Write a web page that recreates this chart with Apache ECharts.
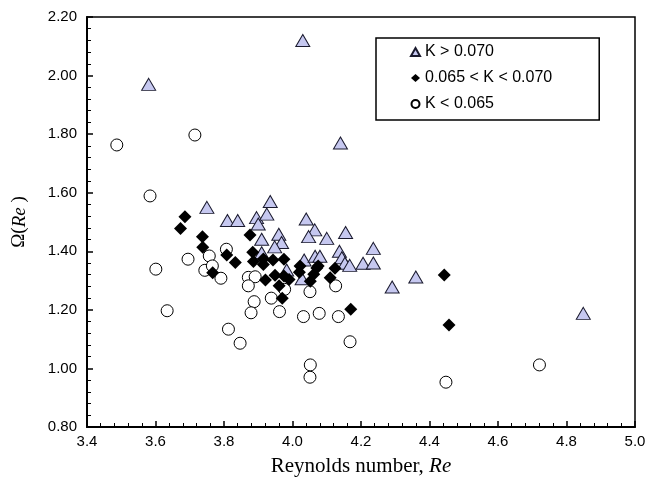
<!DOCTYPE html>
<html>
<head>
<meta charset="utf-8">
<script src="https://cdn.jsdelivr.net/npm/echarts@6/dist/echarts.min.js"></script>
<style>
  html, body { margin: 0; padding: 0; background: #fff; }
  #chart { width: 647px; height: 479px; }
</style>
</head>
<body>
<div id="chart"></div>
<script>
// Re, Omega(Re) pairs
let highK = [
  [3.58, 1.97], [4.03, 2.12], [4.14, 1.77], [3.75, 1.55], [3.81, 1.505], [3.84, 1.505],
  [3.895, 1.515], [3.935, 1.57], [3.925, 1.527], [3.90, 1.493], [4.04, 1.51], [4.065, 1.473],
  [4.047, 1.45], [4.10, 1.444], [4.155, 1.464], [3.96, 1.458], [3.91, 1.441], [3.968, 1.43],
  [3.948, 1.415], [4.137, 1.40], [4.144, 1.378], [4.153, 1.359], [4.167, 1.352], [4.206, 1.359],
  [4.236, 1.41], [4.236, 1.36], [4.034, 1.37], [4.066, 1.383], [4.08, 1.383], [3.983, 1.336],
  [4.028, 1.306], [4.36, 1.312], [4.291, 1.278], [4.849, 1.188], [3.91, 1.395]
]
let midK = [
  [3.686, 1.518], [3.673, 1.478], [3.737, 1.45], [3.738, 1.414], [3.876, 1.456], [3.808, 1.387],
  [3.833, 1.362], [3.767, 1.327], [3.884, 1.397], [3.886, 1.365], [3.915, 1.374], [3.915, 1.355],
  [3.943, 1.37], [3.975, 1.373], [3.949, 1.318], [3.921, 1.302], [3.975, 1.316], [3.99, 1.304],
  [3.961, 1.282], [3.97, 1.24], [4.022, 1.35], [4.02, 1.328], [4.052, 1.298], [4.071, 1.343],
  [4.075, 1.35], [4.062, 1.322], [4.11, 1.31], [4.124, 1.342], [4.17, 1.202], [4.443, 1.319],
  [4.457, 1.148]
]
let lowK = [
  [3.487, 1.763], [3.715, 1.797], [3.584, 1.589], [3.601, 1.339], [3.634, 1.197], [3.695, 1.373],
  [3.744, 1.335], [3.757, 1.384], [3.766, 1.35], [3.791, 1.308], [3.807, 1.407], [3.871, 1.311],
  [3.891, 1.313], [3.871, 1.282], [3.977, 1.27], [4.051, 1.262], [4.126, 1.282], [3.888, 1.228],
  [3.879, 1.19], [3.938, 1.24], [3.962, 1.194], [4.032, 1.177], [4.078, 1.188], [4.134, 1.177],
  [3.813, 1.134], [3.847, 1.086], [4.052, 1.012], [4.051, 0.97], [4.168, 1.091], [4.721, 1.012],
  [4.448, 0.953]
]
let seriesNames = ['K > 0.070', '0.065 < K < 0.070', 'K < 0.065']

let sans = 'Liberation Sans, Arial, sans-serif'
let serif = 'Liberation Serif, Times New Roman, serif'

let myChart = echarts.init(document.getElementById('chart'))
let option = {
  animation: false,
  backgroundColor: '#fff',
  grid: {
    left: 87, right: 12, top: 17, bottom: 52,
    outerBoundsMode: 'none',
    show: true, borderColor: '#000', borderWidth: 1.5
  },
  legend: {
    orient: 'vertical',
    left: 376, top: 38,
    data: seriesNames,
    itemWidth: 9, itemHeight: 8, itemGap: 10,
    padding: [6, 47, 8, 34],
    backgroundColor: '#fff',
    borderColor: '#000', borderWidth: 1.5, borderRadius: 0,
    textStyle: { fontFamily: sans, fontSize: 16, color: '#000' }
  },
  xAxis: {
    type: 'value', min: 3.4, max: 5.0, interval: 0.2,
    name: '{a|Reynolds number, }{b|Re}',
    nameLocation: 'middle', nameGap: 29,
    nameTextStyle: {
      rich: {
        a: { fontFamily: serif, fontSize: 21, color: '#000' },
        b: { fontFamily: serif, fontSize: 21, fontStyle: 'italic', color: '#000' }
      }
    },
    axisLine: { lineStyle: { color: '#000', width: 2 } },
    axisTick: { inside: true, length: 6, lineStyle: { color: '#000', width: 1.5 } },
    minorTick: { show: true, splitNumber: 5, length: 4, lineStyle: { color: '#000', width: 1 } },
    splitLine: { show: false },
    axisLabel: {
      margin: 7, color: '#000', fontFamily: sans, fontSize: 15,
      formatter: function (v) { return v.toFixed(1) }
    }
  },
  yAxis: {
    type: 'value', min: 0.8, max: 2.2, interval: 0.2,
    name: '{a|Ω(}{b|Re}{a| )}',
    nameLocation: 'middle', nameGap: 58, nameRotate: 90,
    nameTextStyle: {
      rich: {
        a: { fontFamily: serif, fontSize: 19, color: '#000' },
        b: { fontFamily: serif, fontSize: 19, fontStyle: 'italic', color: '#000' }
      }
    },
    axisLine: { lineStyle: { color: '#000', width: 2 } },
    axisTick: { inside: true, length: 6, lineStyle: { color: '#000', width: 1.5 } },
    minorTick: { show: true, splitNumber: 5, length: 4, lineStyle: { color: '#000', width: 1 } },
    splitLine: { show: false },
    axisLabel: {
      margin: 10, color: '#000', fontFamily: sans, fontSize: 15,
      formatter: function (v) { return v.toFixed(2) }
    }
  },
  series: [
    {
      name: seriesNames[2], type: 'scatter', data: lowK, z: 2,
      symbol: 'circle', symbolSize: 12,
      itemStyle: { color: '#fff', borderColor: '#000', borderWidth: 1, opacity: 1 }
    },
    {
      name: seriesNames[0], type: 'scatter', data: highK, z: 3,
      symbol: 'triangle', symbolSize: [14, 12],
      itemStyle: { color: '#c6c8f0', borderColor: '#1a1a2e', borderWidth: 1, opacity: 1 }
    },
    {
      name: seriesNames[1], type: 'scatter', data: midK, z: 4,
      symbol: 'diamond', symbolSize: [13, 13],
      itemStyle: { color: '#000', borderColor: '#000', borderWidth: 0, opacity: 1 }
    }
  ]
}
myChart.setOption(option)
</script>
</body>
</html>
